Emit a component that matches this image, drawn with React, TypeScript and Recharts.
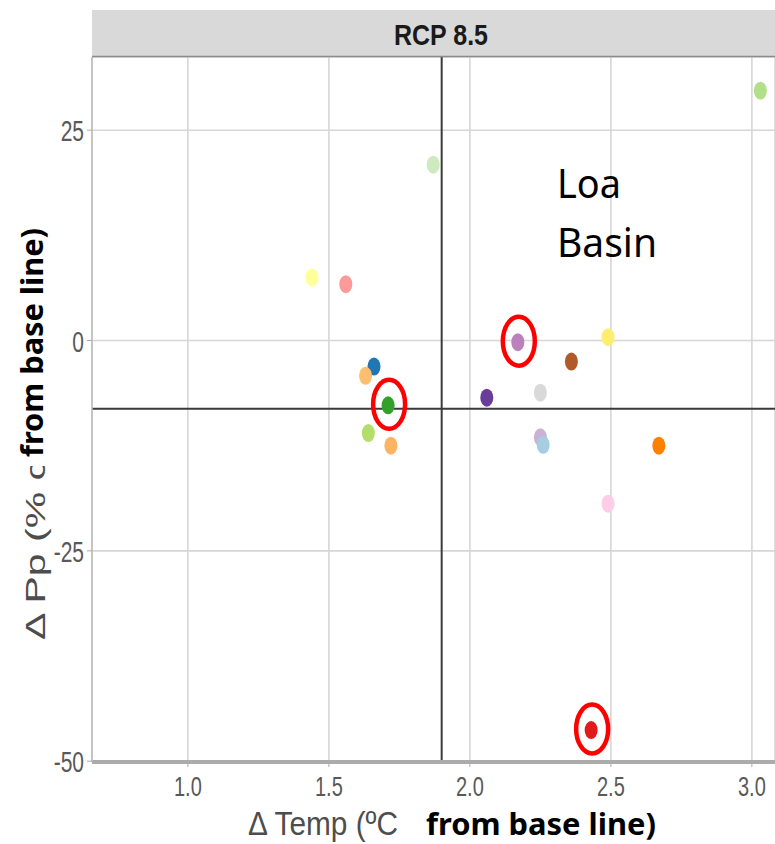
import { ScatterChart, Scatter, XAxis, YAxis, CartesianGrid, ReferenceLine, Cell } from 'recharts';

// change in temperature (ºC) and precipitation (%) from base line, one point per model
const tempChange = [3.03, 1.87, 1.44, 1.56, 1.66, 1.63, 1.71, 1.64, 1.72, 2.06, 2.17, 2.36, 2.49, 2.25, 2.25, 2.26, 2.67, 2.49, 2.43];
const precipChange = [29.7, 20.9, 7.5, 6.7, -3.1, -4.2, -7.7, -11.0, -12.5, -6.8, -0.2, -2.5, 0.4, -6.2, -11.5, -12.4, -12.5, -19.4, -46.3];
const pointColors = [
    '#b2df8a', '#cdeac0', '#ffff99', '#fb9a99', '#1f78b4', '#fdbf6f', '#33a02c', '#b3de69', '#fdb462', '#6a3d9a',
    '#bc80bd', '#b15928', '#ffed6f', '#d9d9d9', '#cab2d6', '#a6cee3', '#ff7f00', '#fccde5', '#e31a1c',
];
// models circled in red
const circled = [6, 10, 18];

const meanTemp = 1.9;
const meanPrecip = -8.1;

const xTicks = [1.0, 1.5, 2.0, 2.5, 3.0];
const yTicks = [-50, -25, 0, 25];

const points = tempChange.map((t, i) => ({ x: t, y: precipChange[i], color: pointColors[i] }));
const circledPoints = circled.map((i) => points[i]);

const tickColor = '#595959';

const XTick = (props: any) => {
    const { x, y, payload } = props;
    return (
        <text transform={`translate(${x} ${y + 27}) scale(1 1.4)`} textAnchor="middle" fill={tickColor}
            fontFamily="Liberation Sans, Arial, sans-serif" fontSize={20}>
            {Number(payload.value).toFixed(1)}
        </text>
    );
};

const YTick = (props: any) => {
    const { x, y, payload } = props;
    return (
        <text transform={`translate(${x - 1} ${y + 11}) scale(1 1.4)`} textAnchor="end" fill={tickColor}
            fontFamily="Liberation Sans, Arial, sans-serif" fontSize={21}>
            {payload.value}
        </text>
    );
};

const Dot = (props: any) => <ellipse cx={props.cx} cy={props.cy} rx={6.5} ry={9} fill={props.fill} />;

const Ring = (props: any) => (
    <ellipse cx={props.cx + 1} cy={props.cy - 1} rx={16} ry={24.5} fill="none" stroke="#ff0000" strokeWidth={4.5} />
);

export default function App() {
    return (
        <div style={{ position: 'absolute', left: 0, top: 0, width: 775, height: 844, background: '#fff' }}>
            <ScatterChart width={775} height={844} margin={{ top: 57, right: 0, bottom: 0, left: 0 }}>
                <CartesianGrid stroke="#d6d6d6" strokeWidth={1.6} />
                <XAxis type="number" dataKey="x" domain={[0.66, 3.082]} ticks={xTicks} interval={0} allowDataOverflow
                    height={82} tickSize={5} tick={<XTick />} axisLine={{ stroke: '#ababab', strokeWidth: 4 }}
                    tickLine={{ stroke: '#ababab' }} />
                <YAxis type="number" dataKey="y" domain={[-50.1, 33.7]} ticks={yTicks} interval={0} allowDataOverflow
                    width={92} tickSize={5} tick={<YTick />} axisLine={{ stroke: '#bdbdbd', strokeWidth: 1.5 }}
                    tickLine={{ stroke: '#ababab' }} />
                <ReferenceLine x={meanTemp} stroke="#3a3a3a" strokeWidth={2} />
                <ReferenceLine y={meanPrecip} stroke="#3a3a3a" strokeWidth={2} />
                <Scatter data={points} shape={<Dot />} isAnimationActive={false}>
                    {points.map((p, i) => <Cell key={i} fill={p.color} />)}
                </Scatter>
                <Scatter data={circledPoints} shape={<Ring />} isAnimationActive={false} />
            </ScatterChart>
            <svg width={775} height={844} style={{ position: 'absolute', left: 0, top: 0, pointerEvents: 'none' }}>
                <rect x={92} y={10} width={683} height={47} fill="#d9d9d9" />
                <line x1={92} y1={56.5} x2={775} y2={56.5} stroke="#8c8c8c" strokeWidth={1.5} />
                <text transform="translate(441 45) scale(1 1.2)" textAnchor="middle" fill="#1a1a1a"
                    fontFamily="Liberation Sans, Arial, sans-serif" fontWeight="bold" fontSize={25}>RCP 8.5</text>
                <text x={557} y={198} fontFamily="Noto Sans, sans-serif" fontSize={40} fill="#000"
                    textLength={64} lengthAdjust="spacingAndGlyphs">Loa</text>
                <text x={557} y={257} fontFamily="Noto Sans, sans-serif" fontSize={40} fill="#000"
                    textLength={100} lengthAdjust="spacingAndGlyphs">Basin</text>
                <text x={248} y={835} fontFamily="Liberation Sans, Arial, sans-serif" fontSize={33} fill="#4d4d4d"
                    textLength={150} lengthAdjust="spacingAndGlyphs">Δ Temp (ºC</text>
                <text x={426} y={835} fontFamily="Noto Sans, sans-serif" fontWeight="bold" fontSize={31} fill="#000"
                    textLength={230} lengthAdjust="spacingAndGlyphs">from base line)</text>
                <text transform="translate(45 640) rotate(-90)" fontFamily="Liberation Sans, Arial, sans-serif"
                    fontSize={28} fill="#4d4d4d" textLength={180} lengthAdjust="spacingAndGlyphs">Δ Pp (% c</text>
                <rect x={12} y={450} width={38} height={16} fill="#fff" />
                <text transform="translate(43 457) rotate(-90)" fontFamily="Noto Sans, sans-serif" fontWeight="bold"
                    fontSize={31} fill="#000" textLength={229} lengthAdjust="spacingAndGlyphs">from base line)</text>
            </svg>
        </div>
    );
}
